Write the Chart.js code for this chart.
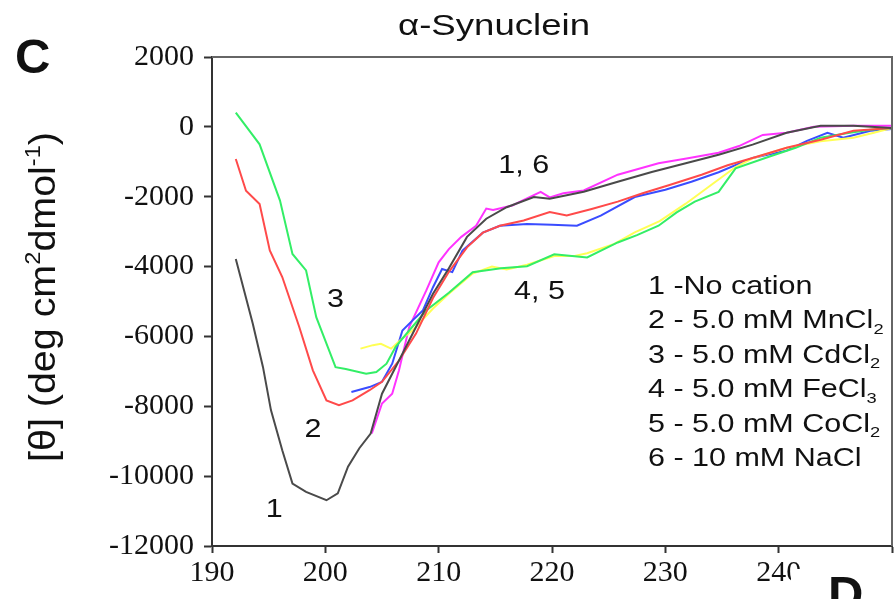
<!DOCTYPE html>
<html>
<head>
<meta charset="utf-8">
<script src="https://cdn.jsdelivr.net/npm/chart.js@4.4.1/dist/chart.umd.min.js"></script>
<style>
  html, body { margin: 0; padding: 0; background: #fff; }
  canvas { display: block; }
</style>
</head>
<body>
<canvas id="cdChart" width="894" height="599"></canvas>
<script>
// CD spectra, alpha-synuclein with cations
const xTicks = [190, 200, 210, 220, 230, 240, 250];
const yTicks = [2000, 0, -2000, -4000, -6000, -8000, -10000, -12000];

// 1 - no cation
const wl1 = [192.1, 193.6, 194.5, 195.2, 196.2, 197.1, 198.3, 200.1, 201.1, 202.0, 203.0, 204.0, 205.0, 206.5, 208.0, 209.5, 210.9, 212.5, 214.2, 216.0, 218.4, 219.8, 222.8, 225.8, 228.8, 231.8, 234.7, 237.7, 240.7, 243.7, 246.6, 250.0];
const cd1 = [-3780, -5640, -6880, -8110, -9260, -10210, -10450, -10690, -10490, -9730, -9200, -8780, -7640, -6690, -5730, -4780, -4050, -3150, -2630, -2300, -2010, -2060, -1860, -1570, -1290, -1040, -800, -510, -170, 30, 30, -30];

// 2 - MnCl2
const wl2 = [192.1, 193.0, 194.2, 195.1, 196.2, 197.7, 198.9, 200.1, 201.2, 202.4, 203.9, 205.0, 206.5, 208.0, 209.5, 210.9, 212.5, 213.9, 215.4, 217.5, 219.8, 221.3, 223.5, 225.8, 228.0, 230.3, 233.2, 235.5, 237.7, 240.7, 243.7, 246.6, 250.0];
const cd2 = [-920, -1830, -2210, -3540, -4300, -5730, -6970, -7830, -7970, -7830, -7540, -7300, -6690, -5920, -4900, -4150, -3450, -3030, -2830, -2680, -2440, -2540, -2350, -2140, -1900, -1670, -1370, -1100, -890, -600, -370, -110, -30];

// 3 - CdCl2
const wl3 = [192.1, 194.2, 196.0, 197.1, 198.3, 199.2, 200.9, 201.8, 203.6, 204.5, 205.4, 206.2, 207.4, 208.9, 210.9, 213.0, 215.5, 217.8, 220.2, 223.1, 225.8, 227.5, 229.4, 231.0, 232.6, 234.7, 236.2, 239.2, 241.5, 243.7, 246.0, 248.1, 250.0];
const cd3 = [410, -500, -2110, -3640, -4110, -5450, -6880, -6930, -7070, -7020, -6780, -6300, -5830, -5260, -4750, -4160, -4050, -3990, -3650, -3740, -3310, -3100, -2830, -2450, -2140, -1860, -1190, -850, -600, -310, -180, -80, -30];

// 4 - FeCl3
const wl4 = [203.1, 204.2, 204.9, 205.8, 206.8, 207.7, 209.5, 210.9, 213.0, 214.7, 216.0, 217.8, 220.2, 222.0, 223.1, 225.5, 227.3, 229.5, 231.8, 234.1, 236.2, 237.7, 240.7, 243.7, 246.6, 248.4, 250.0];
const cd4 = [-6350, -6250, -6210, -6350, -6050, -5830, -5200, -4780, -4200, -4000, -4080, -3950, -3700, -3700, -3620, -3350, -3020, -2700, -2200, -1650, -1150, -900, -600, -410, -310, -170, -30];

// 5 - CoCl2
const wl5 = [202.3, 203.9, 205.0, 205.9, 206.8, 207.7, 208.6, 209.5, 210.3, 211.2, 212.1, 213.9, 215.4, 217.8, 220.0, 222.2, 224.3, 227.3, 230.0, 232.3, 234.7, 237.7, 240.7, 242.5, 244.3, 245.7, 248.1, 250.0];
const cd5 = [-7590, -7450, -7300, -6780, -5830, -5540, -5260, -4590, -4070, -4160, -3540, -3030, -2830, -2780, -2800, -2830, -2540, -2010, -1800, -1570, -1300, -890, -680, -400, -170, -310, -110, -60];

// 6 - NaCl
const wl6 = [204.1, 205.0, 205.9, 206.5, 207.4, 208.9, 210.0, 210.9, 212.0, 213.3, 214.2, 214.8, 216.5, 219.0, 219.8, 221.0, 222.8, 225.8, 229.4, 232.0, 234.7, 236.5, 238.6, 240.7, 243.1, 246.6, 250.0];
const cd6 = [-8780, -7920, -7640, -6970, -5730, -4690, -3880, -3500, -3150, -2830, -2340, -2380, -2250, -1860, -2020, -1900, -1820, -1370, -1040, -900, -740, -550, -230, -170, 0, 30, 30];

const seriesColors = ['#4a4a4a', '#ff4a4a', '#33ee66', '#ffff55', '#3a4cff', '#ff33ff'];
const allWl = [wl1, wl2, wl3, wl4, wl5, wl6];
const allCd = [cd1, cd2, cd3, cd4, cd5, cd6];

const legendLines = [
  ['1 -No cation', ''],
  ['2 - 5.0 mM MnCl', '2'],
  ['3 - 5.0 mM CdCl', '2'],
  ['4 - 5.0 mM FeCl', '3'],
  ['5 - 5.0 mM CoCl', '2'],
  ['6 - 10 mM NaCl', '']
];
// curve labels, placed in data units
const curveLabels = [
  { text: '1', x: 195.5, y: -10900 },
  { text: '2', x: 198.9, y: -8630 },
  { text: '3', x: 200.9, y: -4890 },
  { text: '1, 6', x: 217.5, y: -1060 },
  { text: '4, 5', x: 218.9, y: -4680 }
];

const SANS = '"Liberation Sans", Arial, sans-serif';
const SERIF = '"Liberation Serif", "Times New Roman", serif';
const SX = 1.22; // text in the figure is stretched horizontally

// draw a run of text pieces: [text, 'sub'|'sup'|null]
function drawRuns(ctx, runs, x, y, size, sx, bold) {
  ctx.save();
  ctx.translate(x, y);
  ctx.scale(sx, 1);
  let cx = 0;
  runs.forEach(r => {
    const small = r[1] ? Math.round(size * 0.6) : size;
    ctx.font = (bold ? 'bold ' : '') + small + 'px ' + SANS;
    let dy = 0;
    if (r[1] === 'sub') dy = size * 0.22;
    if (r[1] === 'sup') dy = -size * 0.42;
    ctx.fillText(r[0], cx, dy);
    cx += ctx.measureText(r[0]).width;
  });
  ctx.restore();
}

const textPlugin = {
  id: 'figureText',
  afterDraw(chart) {
    const ctx = chart.ctx;
    const a = chart.chartArea;
    const xs = chart.scales.x, ys = chart.scales.y;

    // frame on top and right
    ctx.save();
    ctx.strokeStyle = '#666';
    ctx.lineWidth = 2;
    ctx.beginPath();
    ctx.moveTo(a.left, a.top);
    ctx.lineTo(a.right, a.top);
    ctx.lineTo(a.right, a.bottom);
    ctx.stroke();
    ctx.restore();

    ctx.save();
    ctx.fillStyle = '#111';
    ctx.textBaseline = 'alphabetic';

    // title
    ctx.font = '30px ' + SANS;
    const tw = ctx.measureText('α-Synuclein').width * SX;
    drawRuns(ctx, [['α-Synuclein', null]], 494 - tw / 2, 35, 30, SX, false);

    // panel letter
    ctx.font = 'bold 49px ' + SANS;
    ctx.fillText('C', 15, 73);

    // y axis title, rotated
    ctx.save();
    ctx.translate(55, 297);
    ctx.rotate(-Math.PI / 2);
    const yRuns = [['[θ] (deg cm', null], ['2', 'sup'], ['dmol', null], ['-1', 'sup'], [')', null]];
    let len = 0;
    yRuns.forEach(r => {
      ctx.font = (r[1] ? 18 : 30) + 'px ' + SANS;
      len += ctx.measureText(r[0]).width;
    });
    const ySx = 330 / len;
    ctx.scale(1, 1.2);
    drawRuns(ctx, yRuns, -165, 0, 30, ySx, false);
    ctx.restore();

    // legend text
    legendLines.forEach((l, i) => {
      const runs = [[l[0], null]];
      if (l[1]) runs.push([l[1], 'sub']);
      drawRuns(ctx, runs, 648, 294 + i * 34.4, 25, SX, false);
    });

    // curve labels
    curveLabels.forEach(c => {
      ctx.font = '25px ' + SANS;
      const w = ctx.measureText(c.text).width * SX;
      const px = xs.getPixelForValue(c.x);
      const py = ys.getPixelForValue(c.y);
      drawRuns(ctx, [[c.text, null]], px - w / 2, py + 9, 25, SX, false);
    });

    // next panel corner (D) hides part of the last tick label
    ctx.fillStyle = '#fff';
    ctx.fillRect(791, 569, 103, 30);
    ctx.fillStyle = '#111';
    ctx.font = 'bold 49px ' + SANS;
    ctx.fillText('D', 828, 610);
    ctx.restore();
  }
};

const bgPlugin = {
  id: 'whiteBg',
  beforeDraw(chart) {
    const ctx = chart.ctx;
    ctx.save();
    ctx.fillStyle = '#fff';
    ctx.fillRect(0, 0, chart.width, chart.height);
    ctx.restore();
  }
};

const datasets = allWl.map((wl, i) => ({
  label: 'Curve ' + (i + 1),
  data: wl.map((w, j) => ({ x: w, y: allCd[i][j] })),
  borderColor: seriesColors[i],
  borderWidth: 2,
  pointRadius: 0,
  fill: false,
  tension: 0
}));

new Chart(document.getElementById('cdChart'), {
  type: 'line',
  data: { datasets: datasets },
  options: {
    responsive: false,
    animation: false,
    layout: { padding: { top: 57, right: 1, left: 0, bottom: 0 } },
    plugins: {
      legend: { display: false },
      tooltip: { enabled: false },
      title: { display: false }
    },
    scales: {
      x: {
        type: 'linear',
        min: 190,
        max: 250,
        afterFit: s => { s.height = 53; },
        afterBuildTicks: s => { s.ticks = xTicks.map(v => ({ value: v })); },
        ticks: {
          font: { family: SERIF, size: 30 },
          color: '#111',
          padding: 2,
          maxRotation: 0,
          callback: v => (v === 250 ? '' : v)
        },
        grid: { drawOnChartArea: false, drawTicks: true, tickLength: 7, tickWidth: 2, tickColor: '#333' },
        border: { display: true, color: '#333', width: 2 }
      },
      y: {
        min: -12000,
        max: 2000,
        afterFit: s => { s.width = 212; },
        afterBuildTicks: s => { s.ticks = yTicks.map(v => ({ value: v })); },
        ticks: {
          font: { family: SERIF, size: 30 },
          color: '#111',
          padding: 10,
          callback: v => v
        },
        grid: { drawOnChartArea: false, drawTicks: true, tickLength: 8, tickWidth: 2, tickColor: '#333' },
        border: { display: true, color: '#333', width: 2 }
      }
    }
  },
  plugins: [bgPlugin, textPlugin]
});
</script>
</body>
</html>
